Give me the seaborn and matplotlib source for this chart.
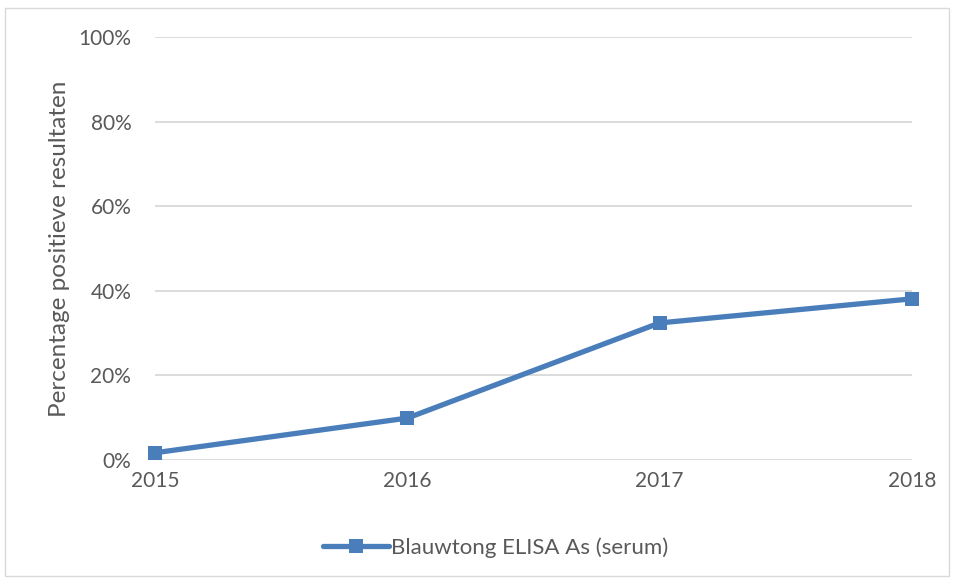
import pandas as pd
import seaborn as sns
import matplotlib.pyplot as plt
from matplotlib.patches import Rectangle

sns.set_style('white')
plt.rcParams['font.family'] = ['Lato', 'DejaVu Sans']

# data
years = [2015, 2016, 2017, 2018]
positive_pct = [1.7, 9.9, 32.4, 38.1]
series_name = 'Blauwtong ELISA As (serum)'
y_ticks = [0, 20, 40, 60, 80, 100]

df = pd.DataFrame({'year': years, 'pct': positive_pct, 'serie': series_name})

text_col = '#595959'
blue = '#4a7ebb'

fig = plt.figure(figsize=(9.56, 5.81), dpi=100)
ax = fig.add_axes([0.1621, 0.2083, 0.7918, 0.728])

sns.lineplot(data=df, x='year', y='pct', hue='serie', palette=[blue],
             marker='s', markersize=10, markeredgewidth=0, linewidth=3.8,
             ax=ax, clip_on=False)

ax.set_xlim(2015, 2018)
ax.set_ylim(0, 100)
ax.set_xticks(years)
ax.set_xticklabels([str(y) for y in years])
ax.set_yticks(y_ticks)
ax.set_yticklabels([f'{t}%' for t in y_ticks])
ax.grid(axis='y', color='#d9d9d9', linewidth=1.3)
ax.set_axisbelow(True)
for s in ax.spines.values():
    s.set_visible(False)
ax.tick_params(axis='both', length=0, labelsize=15, colors=text_col)
ax.tick_params(axis='y', pad=17)
ax.tick_params(axis='x', pad=8)
ax.set_xlabel('')
ax.set_ylabel('Percentage positieve resultaten', fontsize=17.5, color=text_col, labelpad=6)

leg = ax.legend(loc='upper center', bbox_to_anchor=(0.45, -0.135), frameon=False,
                fontsize=16, handlelength=3, handletextpad=0.1, labelcolor=text_col)

# chart area border
fig.patches.append(Rectangle((5 / 956, 5 / 581), 944 / 956, 568 / 581, transform=fig.transFigure,
                             fill=False, edgecolor='#d9d9d9', linewidth=1))

fig.savefig('out.png', dpi=100)
